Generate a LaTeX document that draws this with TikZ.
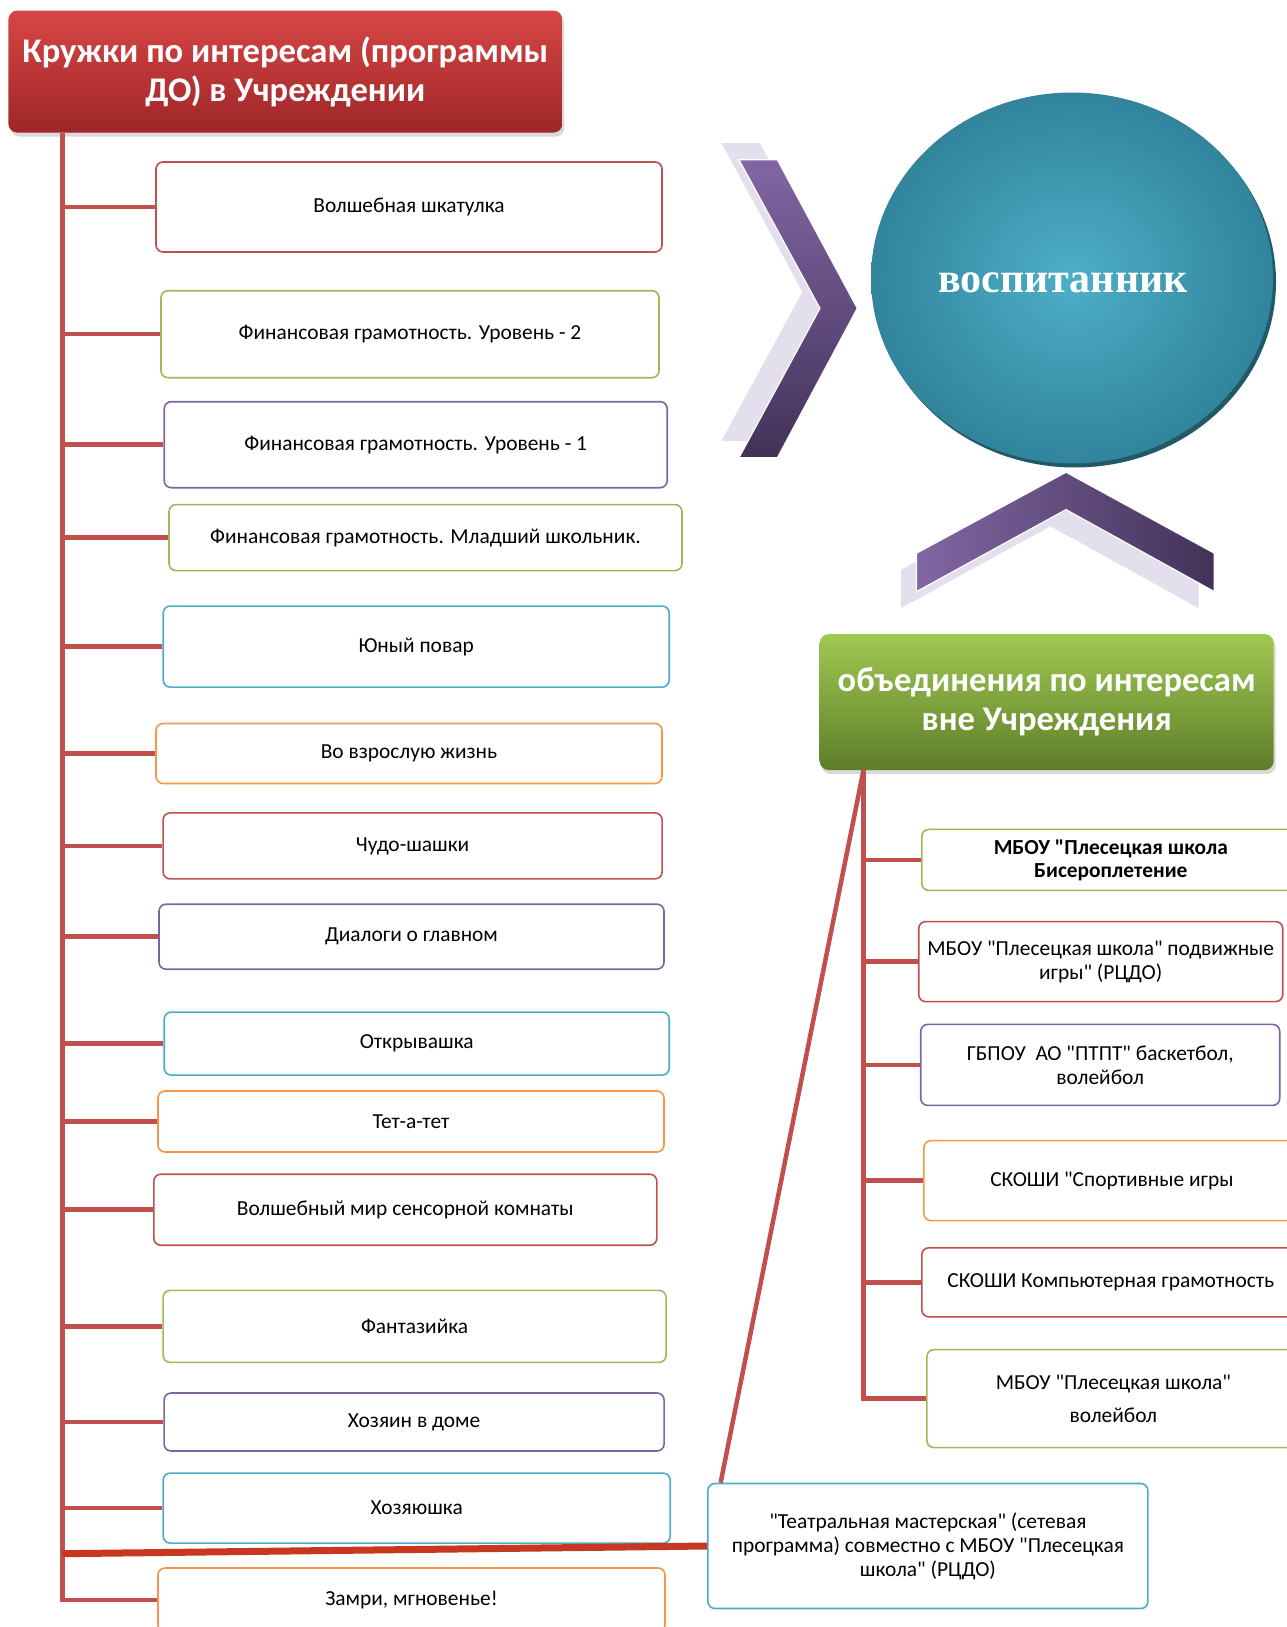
\documentclass[tikz,border=0pt]{standalone}
\usepackage{fontspec}
\setmainfont{Carlito}[Ligatures=TeXOff]
\newfontfamily\pupilfont{Liberation Serif}
\usepackage{tikz}
\usetikzlibrary{shapes.geometric, positioning, calc, shadows}
\definecolor{boxred}{RGB}{192,80,77}
\definecolor{boxgreen}{RGB}{155,187,89}
\definecolor{boxpurple}{RGB}{128,100,162}
\definecolor{boxblue}{RGB}{75,172,198}
\definecolor{boxorange}{RGB}{247,150,70}
\definecolor{linkred}{RGB}{200,56,32}
\definecolor{headred}{RGB}{216,70,70}
\definecolor{headreddark}{RGB}{158,38,40}
\definecolor{headgreen}{RGB}{160,200,82}
\definecolor{headgreendark}{RGB}{94,126,42}
\definecolor{pupilin}{RGB}{78,174,200}
\definecolor{pupilout}{RGB}{49,132,155}
\definecolor{pupilrim}{RGB}{33,89,103}
\definecolor{chevlight}{RGB}{130,102,164}
\definecolor{chevdark}{RGB}{66,50,88}
\definecolor{chevshade}{RGB}{228,223,236}

\begin{document}
\begin{tikzpicture}[
    x=1pt, y=-1pt,
    box/.style={rectangle, draw=#1, line width=1.6pt, rounded corners=7pt, fill=white, align=center, inner sep=0pt, font=\fontsize{21.4}{24}\selectfont},
    head/.style={rectangle, rounded corners=9pt, align=center, inner sep=0pt, text=white, font=\fontsize{34.6}{39}\selectfont\bfseries, drop shadow={shadow xshift=2pt, shadow yshift=-4pt, opacity=0.3}},
    branch/.style={draw=boxred, line width=4.5pt},
    link/.style={draw=linkred, line width=7pt}
]
\clip (0,0) rectangle (1287,1627);

% Chevrons pointing to the pupil
\fill[chevshade, shift={(-17.6,-16.6)}] (739,159.8) -- (777.4,159.8) -- (857.3,308.3) -- (777.4,457.7) -- (739,457.7) -- (820,308.3) -- cycle;
\shade[top color=chevlight, bottom color=chevdark, draw=white, line width=1.2pt] (739,159.8) -- (777.4,159.8) -- (857.3,308.3) -- (777.4,457.7) -- (739,457.7) -- (820,308.3) -- cycle;
\fill[chevshade, shift={(-15.6,16.6)}] (1066,472.2) -- (1214.3,553.2) -- (1214.3,591.6) -- (1066,509.6) -- (916.5,591.6) -- (916.5,553.2) -- cycle;
\shade[left color=chevlight, right color=chevdark, draw=white, line width=1.2pt] (1066,472.2) -- (1214.3,553.2) -- (1214.3,591.6) -- (1066,509.6) -- (916.5,591.6) -- (916.5,553.2) -- cycle;

% Pupil
\node[ellipse, minimum width=402pt, minimum height=371pt, inner color=pupilin, outer color=pupilout, drop shadow={shadow xshift=3pt, shadow yshift=-4pt, fill=pupilrim, opacity=1}, text=white, font=\pupilfont\fontsize{42}{48}\selectfont\bfseries] (pupil) at (1072,278) {\raisebox{-5pt}[\height][\depth]{\hspace*{-18pt}воспитанник}};

% Left column: programmes inside the institution
\node[head, top color=headred, bottom color=headreddark, minimum width=554pt, minimum height=122pt] (kruzhki) at (285.4,71.6) {Кружки по интересам (программы\\ДО) в Учреждении};
\coordinate (lspine) at (62.3,132.9);

\node[box=boxred, minimum width=506pt, minimum height=90pt] (shkatulka) at (409,207) {Волшебная шкатулка};
\node[box=boxgreen, minimum width=498pt, minimum height=87pt] (fin2) at (410,334.2) {Финансовая грамотность. Уровень - 2};
\node[box=boxpurple, minimum width=503pt, minimum height=86pt] (fin1) at (415.7,444.7) {Финансовая грамотность. Уровень - 1};
\node[box=boxgreen, minimum width=513pt, minimum height=66pt] (finjr) at (425.5,537.6) {Финансовая грамотность. Младший школьник.};
\node[box=boxblue, minimum width=506pt, minimum height=81pt] (povar) at (416.2,646.6) {Юный повар};
\node[box=boxorange, minimum width=506pt, minimum height=60pt] (vzrosl) at (409,753.5) {Во взрослую жизнь};
\node[box=boxred, minimum width=499pt, minimum height=66pt] (shashki) at (412.6,845.9) {Чудо-шашки};
\node[box=boxpurple, minimum width=505pt, minimum height=65pt] (dialogi) at (411.5,936.7) {Диалоги о главном};
\node[box=boxblue, minimum width=505pt, minimum height=63pt] (otkr) at (416.7,1043.6) {Открывашка};
\node[box=boxorange, minimum width=506pt, minimum height=61pt] (tetatet) at (411,1121.5) {Тет-а-тет};
\node[box=boxred, minimum width=503pt, minimum height=71pt] (sensor) at (405.3,1209.7) {Волшебный мир сенсорной комнаты};
\node[box=boxgreen, minimum width=503pt, minimum height=72pt] (fantaz) at (414.6,1326.4) {Фантазийка};
\node[box=boxpurple, minimum width=500pt, minimum height=58pt] (hozyain) at (414.1,1422) {Хозяин в доме};
\node[box=boxblue, minimum width=507pt, minimum height=70pt] (hozyayushka) at (416.7,1508.1) {Хозяюшка};
\node[box=boxorange, minimum width=507pt, minimum height=64pt] (zamri) at (411.5,1600) {Замри, мгновенье!};

\draw[branch] (lspine) -- (lspine |- zamri.west) -- (zamri.west);
\draw[branch] (lspine |- shkatulka.west) -- (shkatulka.west);
\draw[branch] (lspine |- fin2.west) -- (fin2.west);
\draw[branch] (lspine |- fin1.west) -- (fin1.west);
\draw[branch] (lspine |- finjr.west) -- (finjr.west);
\draw[branch] (lspine |- povar.west) -- (povar.west);
\draw[branch] (lspine |- vzrosl.west) -- (vzrosl.west);
\draw[branch] (lspine |- shashki.west) -- (shashki.west);
\draw[branch] (lspine |- dialogi.west) -- (dialogi.west);
\draw[branch] (lspine |- otkr.west) -- (otkr.west);
\draw[branch] (lspine |- tetatet.west) -- (tetatet.west);
\draw[branch] (lspine |- sensor.west) -- (sensor.west);
\draw[branch] (lspine |- fantaz.west) -- (fantaz.west);
\draw[branch] (lspine |- hozyain.west) -- (hozyain.west);
\draw[branch] (lspine |- hozyayushka.west) -- (hozyayushka.west);

% Right column: associations outside the institution
\node[head, top color=headgreen, bottom color=headgreendark, minimum width=454pt, minimum height=136pt] (obyed) at (1046.7,702.1) {объединения по интересам\\вне Учреждения};
\coordinate (rspine) at (863.5,770.1);

\node[box=boxgreen, minimum width=378pt, minimum height=61pt, font=\fontsize{21.4}{23}\selectfont\bfseries] (biser) at (1110.8,859.9) {МБОУ "Плесецкая школа\\Бисероплетение};
\node[box=boxred, minimum width=364pt, minimum height=80pt] (podvizh) at (1100.7,961.6) {МБОУ "Плесецкая школа" подвижные\\игры" (РЦДО)};
\node[box=boxpurple, minimum width=359pt, minimum height=81pt] (ptpt) at (1100.2,1064.9) {ГБПОУ\ \ АО "ПТПТ" баскетбол,\\волейбол};
\node[box=boxorange, minimum width=376pt, minimum height=80pt] (sport) at (1111.9,1180.6) {СКОШИ "Спортивные игры};
\node[box=boxred, minimum width=378pt, minimum height=69pt] (komp) at (1110.8,1282.3) {СКОШИ Компьютерная грамотность};
\node[box=boxgreen, minimum width=373pt, minimum height=98pt, font=\fontsize{21.4}{33}\selectfont] (volley) at (1113.4,1398.6) {МБОУ "Плесецкая школа"\\волейбол};

\draw[branch] (rspine) -- (rspine |- volley.west) -- (volley.west);
\draw[branch] (rspine |- biser.west) -- (biser.west);
\draw[branch] (rspine |- podvizh.west) -- (podvizh.west);
\draw[branch] (rspine |- ptpt.west) -- (ptpt.west);
\draw[branch] (rspine |- sport.west) -- (sport.west);
\draw[branch] (rspine |- komp.west) -- (komp.west);

% Network programme shared by both sides
\node[box=boxblue, minimum width=440pt, minimum height=125pt] (teatr) at (927.9,1546) {"Театральная мастерская" (сетевая\\программа) совместно с МБОУ "Плесецкая\\школа" (РЦДО)};
\draw[branch] (rspine) -- ($(teatr.north west)+(13.5,0)$);
\coordinate (tjoin) at (62.3,1553.7);
\draw[link] (tjoin) -- (teatr.west);

\end{tikzpicture}
\end{document}
